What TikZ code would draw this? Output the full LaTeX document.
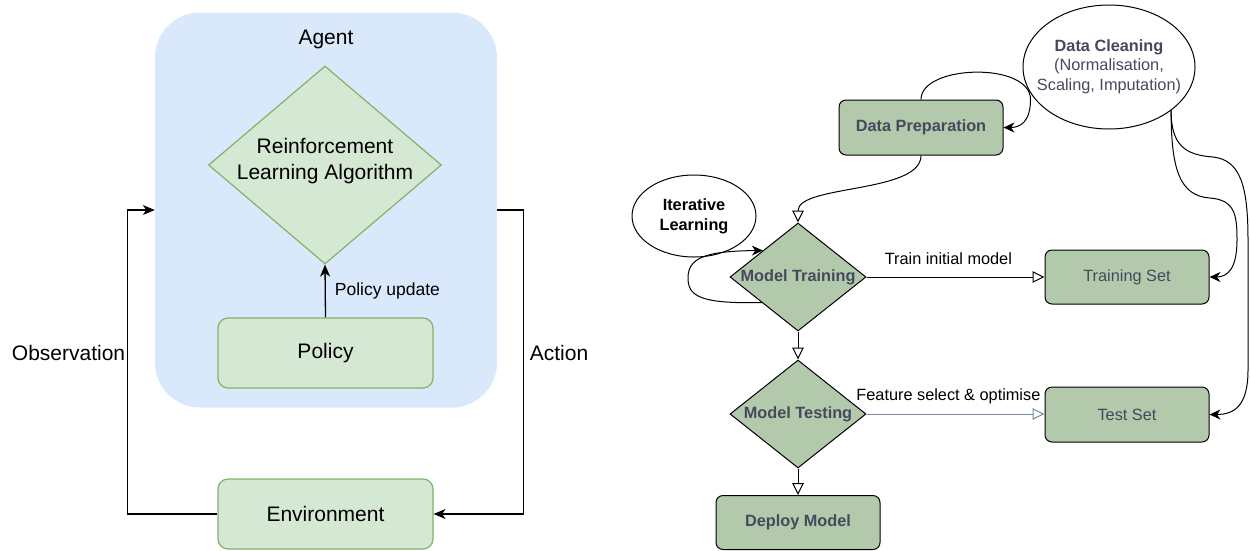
\documentclass[tikz,border=0pt]{standalone}
\usepackage{fontspec}
\setmainfont{Liberation Sans}
\usetikzlibrary{shapes.geometric,arrows.meta,calc}
\definecolor{agentblue}{HTML}{DAE8FC}
\definecolor{lgreen}{HTML}{D5E8D4}
\definecolor{lgreenedge}{HTML}{82B366}
\definecolor{dgreen}{HTML}{B2C9AB}
\definecolor{dtext}{HTML}{46495D}
\definecolor{bluegray}{HTML}{788AA3}
\begin{document}
\begin{tikzpicture}[x=1pt,y=-1pt,
  bigtxt/.style={font=\fontsize{21}{26}\selectfont},
  lbox/.style={draw=lgreenedge, fill=lgreen, line width=1.2pt, rounded corners=10pt,
    minimum width=215pt, minimum height=70pt, inner sep=0, bigtxt},
  ldia/.style={diamond, draw=lgreenedge, fill=lgreen, line width=1.2pt,
    minimum width=233pt, minimum height=198pt, inner sep=0},
  larrow/.style={line width=1.3pt, -{Stealth[length=12pt,width=10pt,inset=3.5pt]}},
  rbox/.style={draw=black, fill=dgreen, line width=1pt, rounded corners=7pt,
    minimum width=164pt, minimum height=54pt, inner sep=0, text=dtext,
    font=\fontsize{16.3}{19}\selectfont},
  rboxb/.style={rbox, font=\bfseries\fontsize{16.3}{19}\selectfont},
  rdia/.style={diamond, draw=black, fill=dgreen, line width=1pt,
    minimum width=136pt, minimum height=108pt, inner sep=0, text=dtext,
    font=\bfseries\fontsize{16.3}{19}\selectfont},
  oval/.style={ellipse, draw=black, fill=white, line width=1pt, inner sep=0},
  openarr/.style={line width=1pt, -{Triangle[open,length=12pt,width=11.5pt]}},
  curvarr/.style={line width=1pt, -{Stealth[length=11pt,width=10pt,inset=3.5pt]}},
  elbl/.style={font=\fontsize{16.3}{19}\selectfont, inner sep=0, text=black}
]
\useasboundingbox (0,0) rectangle (1250,550);

% ---------- left: RL loop ----------
\node[fill=agentblue, rounded corners=45pt, minimum width=342pt, minimum height=395pt, inner sep=0] (agent) at (326,210) {};
\node[bigtxt, inner sep=0] (agentlbl) at (326,39) {Agent};
\node[ldia] (rl) at (325,165) {};
\node[bigtxt, align=center, inner sep=0] (rltxt) at (325,161) {Reinforcement\\Learning Algorithm};
\node[lbox] (pol) at (325.5,353) {Policy};
\node[lbox] (env) at (325.5,514) {Environment};

\draw[larrow] (pol.north) -- (rl.south)
  node[midway, anchor=west, xshift=9pt, inner sep=0, font=\fontsize{17.5}{20}\selectfont] {Policy update};

\coordinate (obsc) at ([xshift=-27pt]agent.west);
\coordinate (actc) at ([xshift=26pt]agent.east);
\draw[larrow] (env.west) -| (obsc)
  node[pos=0.765, anchor=east, xshift=-2pt, inner sep=0, bigtxt] {Observation}
  -- (agent.west);
\draw[larrow] (agent.east) -- (actc) |- (env.east)
  node[pos=0.235, anchor=west, xshift=6pt, inner sep=0, bigtxt] {Action};

% ---------- right: ML pipeline ----------
\node[oval, minimum width=172pt, minimum height=124pt] (dc) at (1109,67) {};
\node[align=center, inner sep=0, text=dtext, font=\fontsize{16.3}{19.5}\selectfont] (dctxt) at (1109,66.5)
  {\textbf{Data Cleaning}\\(Normalisation,\\Scaling, Imputation)};
\node[oval, minimum width=124pt, minimum height=82pt, align=center,
  font=\bfseries\fontsize{16.3}{20}\selectfont] (il) at (694,216) {Iterative\\Learning};

\node[rboxb, minimum height=55pt] (dp) at (921,127.5) {Data Preparation};
\node[rdia] (mtrain) at (798,277) {\makebox[0pt]{Model Training}};
\node[rdia] (mtest) at (798,414) {\makebox[0pt]{Model Testing}};
\node[rboxb] (deploy) at (798,522.5) {Deploy Model};
\node[rbox] (ts) at (1127,277) {Training Set};
\node[rbox, minimum height=55pt] (tst) at (1127,414.5) {Test Set};

% edges
\draw[openarr] (dp.south) .. controls +(0,38) and +(0,-38) .. (mtrain.north);
\draw[curvarr] (dp.north) .. controls +(0,-35) and +(0,-38) .. ([xshift=27pt]dp.north east)
  .. controls +(0,22) and +(17,0) .. (dp.east);
\draw[curvarr] (dc.-35) .. controls (1171,170) and (1180,196) .. (1210,198)
  .. controls (1235,200) and (1237,215) .. (1237,240)
  .. controls (1237,268) and (1228,277) .. (ts.east);
\draw[curvarr] (dc.-35) .. controls (1171,145) and (1185,155) .. (1213,157)
  .. controls (1240,160) and (1248,185) .. (1248,240) -- (1248,370)
  .. controls (1248,405) and (1235,414.5) .. (tst.east);
\draw[curvarr] (mtrain.215) .. controls (700,304) and (688,296) .. (688,278)
  .. controls (688,258) and (705,251) .. (mtrain.143);

\draw[openarr] (mtrain.east) -- (ts.west)
  node[pos=0.46, anchor=base, yshift=13pt, elbl] {Train initial model};
\draw[openarr, draw=bluegray] (mtest.east) -- (tst.west |- mtest.east)
  node[pos=0.46, anchor=base, yshift=14pt, elbl] {Feature select \& optimise};
\draw[openarr] (mtrain.south) -- (mtest.north);
\draw[openarr] (mtest.south) -- (deploy.north);
\end{tikzpicture}
\end{document}
